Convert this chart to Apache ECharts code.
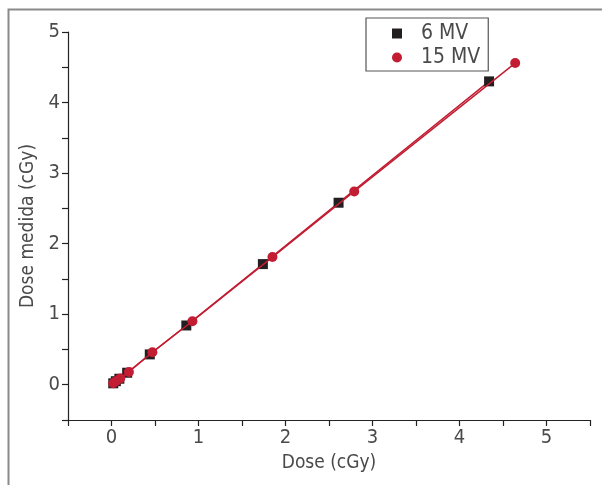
<!DOCTYPE html>
<html>
<head>
<meta charset="utf-8">
<script src="https://cdn.jsdelivr.net/npm/echarts@6/dist/echarts.min.js"></script>
<style>html,body{margin:0;padding:0;background:#fff}#c{width:602px;height:485px}</style>
</head>
<body>
<div id="c"></div>
<script>
const seriesNames = ['6 MV', '15 MV'];
const x6 = [0.02, 0.05, 0.09, 0.18, 0.44, 0.86, 1.74, 2.61, 4.34];
const y6 = [0.02, 0.05, 0.085, 0.17, 0.43, 0.84, 1.71, 2.58, 4.30];
const x15 = [0.02, 0.05, 0.10, 0.20, 0.47, 0.93, 1.85, 2.79, 4.64];
const y15 = [0.02, 0.05, 0.09, 0.18, 0.46, 0.90, 1.81, 2.74, 4.56];
const xTicks = [0, 1, 2, 3, 4, 5];
const yTicks = [0, 1, 2, 3, 4, 5];
const xTitle = 'Dose (cGy)';
const yTitle = 'Dose medida (cGy)';

const FONT = "'Liberation Sans Narrow', 'DejaVu Sans Condensed', 'Liberation Sans', sans-serif";
const RED = '#c21d32';
const BLACK = '#231f20';
const TXT = '#4a4a4a';

const pairs = (xs, ys) => xs.map((v, i) => [v, ys[i]]);

const chart = echarts.init(document.getElementById('c'), null, {renderer: 'canvas'});
const axisCommon = {
  type: 'value',
  interval: 0.5,
  splitLine: {show: false},
  axisLine: {show: true, onZero: false, lineStyle: {color: '#222', width: 1.2}},
  axisTick: {show: true, inside: false, length: 6, lineStyle: {color: '#222', width: 1.2}},
  nameLocation: 'middle',
  nameTextStyle: {fontFamily: FONT, fontSize: 19, color: TXT}
};
chart.setOption({
  animation: false,
  backgroundColor: '#fff',
  graphic: [{
    type: 'rect',
    shape: {x: 8.5, y: 9.5, width: 700, height: 600},
    style: {fill: 'none', stroke: '#8a8a8a', lineWidth: 2},
    silent: true
  }],
  grid: {left: 68, right: 12, top: 32, bottom: 65, containLabel: false},
  legend: {
    orient: 'vertical',
    left: 366, top: 18,
    borderColor: '#555', borderWidth: 1.2,
    padding: [5, 8, 3, 26],
    itemGap: 3,
    itemWidth: 10, itemHeight: 10,
    textStyle: {fontFamily: FONT, fontSize: 21, color: TXT, padding: [0, 0, 0, 14]},
    data: [
      {name: seriesNames[0], icon: 'rect', itemStyle: {color: BLACK}},
      {name: seriesNames[1], icon: 'circle', itemStyle: {color: RED}}
    ]
  },
  xAxis: Object.assign({}, axisCommon, {
    min: -0.5, max: 5.5,
    name: xTitle, nameGap: 34,
    axisLabel: {
      fontFamily: FONT, fontSize: 20, color: TXT, margin: 8,
      formatter: v => xTicks.includes(Math.round(v * 100) / 100) ? String(Math.round(v)) : ''
    }
  }),
  yAxis: Object.assign({}, axisCommon, {
    min: -0.5, max: 5,
    name: yTitle, nameGap: 24,
    axisLabel: {
      fontFamily: FONT, fontSize: 20, color: TXT, margin: 8,
      formatter: v => yTicks.includes(Math.round(v * 100) / 100) ? String(Math.round(v)) : ''
    }
  }),
  series: [
    {
      name: seriesNames[0], type: 'line', data: pairs(x6, y6),
      symbol: 'rect', symbolSize: 10,
      itemStyle: {color: BLACK},
      lineStyle: {color: RED, width: 1.5},
      z: 2
    },
    {
      name: seriesNames[1], type: 'line', data: pairs(x15, y15),
      symbol: 'circle', symbolSize: 10,
      itemStyle: {color: RED},
      lineStyle: {color: RED, width: 1.5},
      z: 3
    }
  ]
});
</script>
</body>
</html>
